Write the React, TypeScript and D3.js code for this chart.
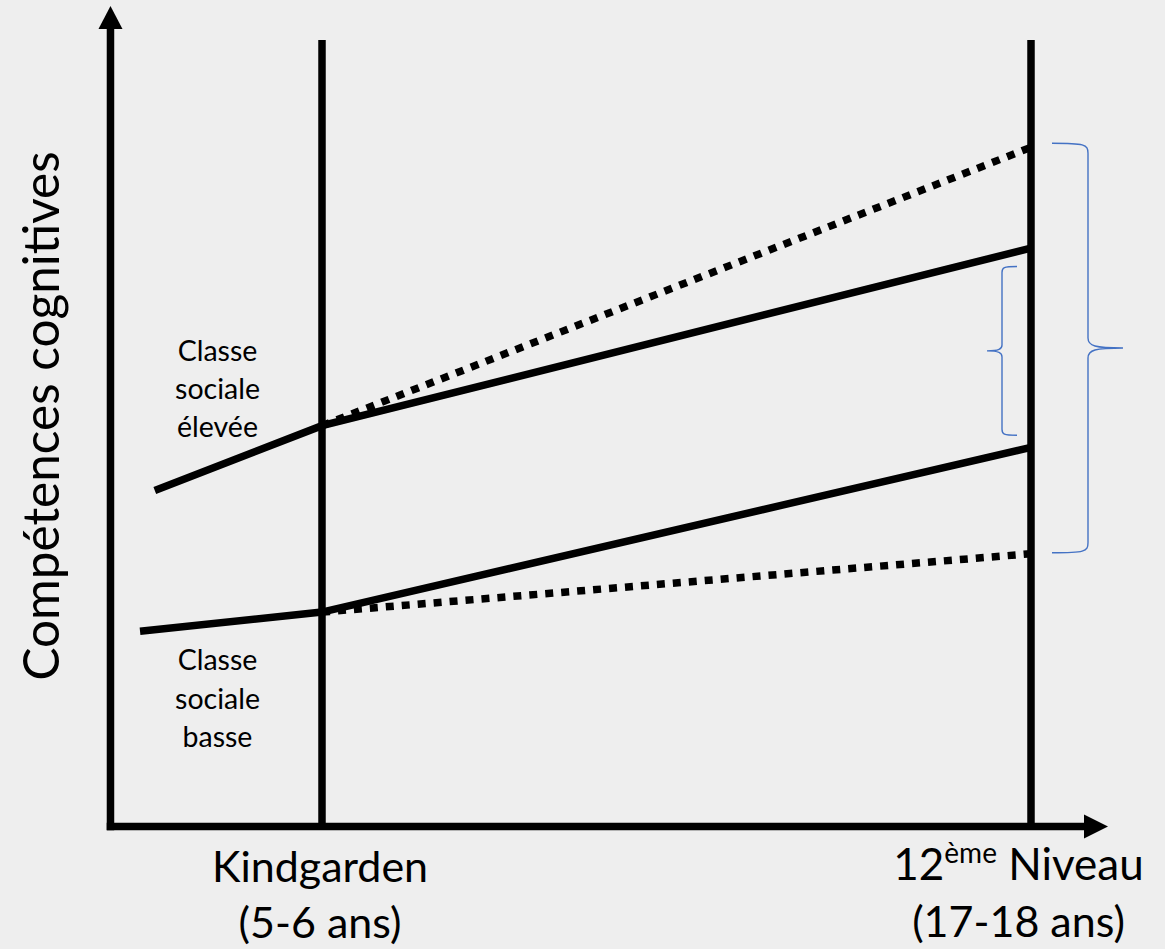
import React from "react";
import * as d3 from "d3";

// Grade stage (0 = Kindergarten, 12 = 12th grade) and cognitive skill level (0-100)
const stages = ["Kindgarden", "12ème Niveau"];
const stageAges = ["(5-6 ans)", "(17-18 ans)"];
const stageGrades = [0, 12];

const highStartGrade = -2.83;
const lowStartGrade = -3.08;

// high social class: before K, at K, at grade 12 (observed), at grade 12 (expected/dotted)
const highBefore = 42.0;
const highAtK = 50.1;
const highEndSolid = 72.3;
const highEndDotted = 84.9;

const lowBefore = 24.4;
const lowAtK = 26.8;
const lowEndSolid = 47.4;
const lowEndDotted = 34.1;

const highLabel = ["Classe", "sociale", "élevée"];
const lowLabel = ["Classe", "sociale", "basse"];
const yTitle = "Compétences cognitives";

// bracket ranges (skill units)
const bigBracket = [84.9, 34.1];
const smallBracket = [70.0, 48.9];

const W = 1165;
const H = 949;

const x = d3.scaleLinear().domain([0, 12]).range([322, 1031]);
const y = d3.scaleLinear().domain([0, 100]).range([826.5, 26.5]);

const line = d3
  .line<[number, number]>()
  .x((d) => x(d[0]))
  .y((d) => y(d[1]));

function brace(
  xOuter: number,
  xSpine: number,
  xTip: number,
  yTop: number,
  yBot: number,
  r: number
) {
  const yMid = (yTop + yBot) / 2;
  return [
    `M${xOuter},${yTop}`,
    `C${xSpine - (xSpine - xOuter) * 0.1},${yTop} ${xSpine},${yTop + 1} ${xSpine},${yTop + r}`,
    `L${xSpine},${yMid - r}`,
    `C${xSpine},${yMid - 2} ${xSpine + (xTip - xSpine) * 0.2},${yMid} ${xTip},${yMid}`,
    `M${xTip},${yMid}`,
    `C${xSpine + (xTip - xSpine) * 0.2},${yMid} ${xSpine},${yMid + 2} ${xSpine},${yMid + r}`,
    `L${xSpine},${yBot - r}`,
    `C${xSpine},${yBot - 1} ${xSpine - (xSpine - xOuter) * 0.1},${yBot} ${xOuter},${yBot}`,
  ].join(" ");
}

export default function App() {
  const font = "Lato, 'Open Sans', sans-serif";
  const axisX0 = x(-3.58);
  const axisY0 = y(0);
  const xArrowTip = 1108;
  const yArrowTip = 6;
  const lw = 7.5;

  const highSolid: [number, number][] = [
    [highStartGrade, highBefore],
    [0, highAtK],
    [12, highEndSolid],
  ];
  const highDot: [number, number][] = [
    [0, highAtK],
    [12, highEndDotted],
  ];
  const lowSolid: [number, number][] = [
    [lowStartGrade, lowBefore],
    [0, lowAtK],
    [12, lowEndSolid],
  ];
  const lowDot: [number, number][] = [
    [0, lowAtK],
    [12, lowEndDotted],
  ];

  const blue = "#4472C4";

  return (
    <svg
      width={W}
      height={H}
      style={{ position: "absolute", left: 0, top: 0, background: "#eeeeee" }}
    >
      <rect x={0} y={0} width={W} height={H} fill="#eeeeee" />

      {/* stage vertical lines */}
      {stageGrades.map((g, i) => (
        <line
          key={i}
          x1={x(g)}
          x2={x(g)}
          y1={40}
          y2={axisY0}
          stroke="#000"
          strokeWidth={lw}
        />
      ))}

      {/* dotted expected trajectories */}
      <path
        d={line(highDot) || ""}
        fill="none"
        stroke="#000"
        strokeWidth={lw}
        strokeDasharray="8 8"
      />
      <path
        d={line(lowDot) || ""}
        fill="none"
        stroke="#000"
        strokeWidth={lw}
        strokeDasharray="8 8"
      />

      {/* solid observed trajectories */}
      <path d={line(highSolid) || ""} fill="none" stroke="#000" strokeWidth={lw} />
      <path d={line(lowSolid) || ""} fill="none" stroke="#000" strokeWidth={lw} />

      {/* axes */}
      <line
        x1={axisX0}
        x2={axisX0}
        y1={axisY0 + lw / 2}
        y2={yArrowTip + 20}
        stroke="#000"
        strokeWidth={lw}
      />
      <polygon
        points={`${axisX0},${yArrowTip} ${axisX0 - 12},${yArrowTip + 23} ${axisX0 + 12},${yArrowTip + 23}`}
        fill="#000"
      />
      <line
        x1={axisX0 - lw / 2}
        x2={xArrowTip - 20}
        y1={axisY0}
        y2={axisY0}
        stroke="#000"
        strokeWidth={lw}
      />
      <polygon
        points={`${xArrowTip},${axisY0} ${xArrowTip - 24},${axisY0 - 12} ${xArrowTip - 24},${axisY0 + 12}`}
        fill="#000"
      />

      {/* brackets */}
      <path
        d={brace(1052, 1088, 1123, y(bigBracket[0]) - 4, y(bigBracket[1]) - 1, 10)}
        fill="none"
        stroke={blue}
        strokeWidth={1.4}
      />
      <path
        d={brace(1017, 1002, 987, y(smallBracket[0]), y(smallBracket[1]), 6)}
        fill="none"
        stroke={blue}
        strokeWidth={1.4}
      />

      {/* group labels */}
      {highLabel.map((t, i) => (
        <text
          key={"h" + i}
          x={217.5}
          y={361 + i * 38}
          textAnchor="middle"
          fontFamily={font}
          fontSize={28.5}
          fill="#000"
        >
          {t}
        </text>
      ))}
      {lowLabel.map((t, i) => (
        <text
          key={"l" + i}
          x={217.5}
          y={670 + i * 38.5}
          textAnchor="middle"
          fontFamily={font}
          fontSize={28.5}
          fill="#000"
        >
          {t}
        </text>
      ))}

      {/* y title */}
      <text
        transform={`translate(59,416) rotate(-90)`}
        textAnchor="middle"
        fontFamily={font}
        fontSize={49.5}
        fill="#000"
      >
        {yTitle}
      </text>

      {/* x stage labels */}
      <text x={320} y={882} textAnchor="middle" fontFamily={font} fontSize={43} fill="#000">
        {stages[0]}
      </text>
      <text x={320} y={938} textAnchor="middle" fontFamily={font} fontSize={43} fill="#000">
        {stageAges[0]}
      </text>
      <text x={1018.5} y={880} textAnchor="middle" fontFamily={font} fontSize={44} fill="#000">
        {stages[1].slice(0, 2)}
        <tspan fontSize={28} dy={-17}>
          {stages[1].slice(2, 5)}
        </tspan>
        <tspan dy={17}>{stages[1].slice(5)}</tspan>
      </text>
      <text x={1018.5} y={937} textAnchor="middle" fontFamily={font} fontSize={43} fill="#000">
        {stageAges[1]}
      </text>
    </svg>
  );
}
